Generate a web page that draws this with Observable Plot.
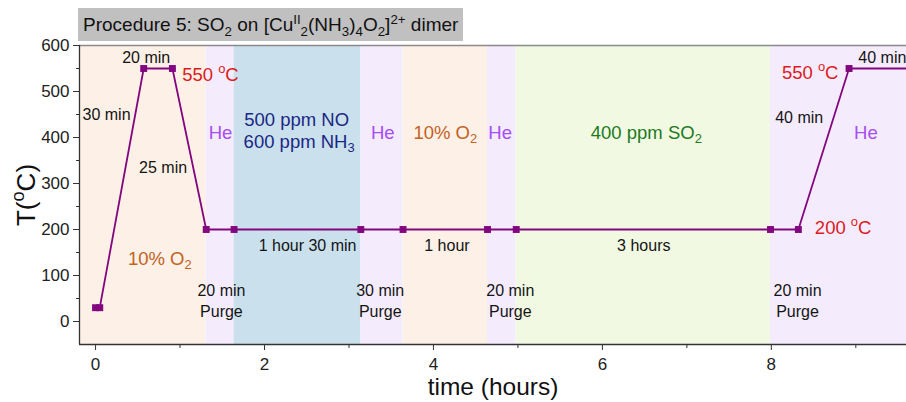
<!DOCTYPE html>
<html><head><meta charset="utf-8">
<script src="https://cdn.jsdelivr.net/npm/d3@7"></script>
<script src="https://cdn.jsdelivr.net/npm/@observablehq/plot@0.6"></script>
<style>
body{margin:0;background:#fff;overflow:hidden;font-family:"Liberation Sans",Arial,sans-serif;}
#wrap{position:relative;width:906px;height:402px;}
#chart{position:absolute;left:0;top:0;}
#title{position:absolute;left:78px;top:8px;height:33px;line-height:33px;padding:0 5px 0 5px;background:#c0c0c0;font-size:19px;color:#111;white-space:nowrap;z-index:2;}
#title sub,#title sup{font-size:70%;line-height:0;}
</style></head>
<body><div id="wrap"><div id="title">Procedure 5: SO<sub>2</sub> on [Cu<sup>II</sup><sub>2</sub>(NH<sub>3</sub>)<sub>4</sub>O<sub>2</sub>]<sup>2+</sup> dimer</div><div id="chart"></div></div>
<script>
// ---- data ----
const xDomain = [-0.19, 9.6];
const yDomain = [-50, 600];
const xMajorTicks = [0, 2, 4, 6, 8];
const xMinorTicks = [1, 3, 5, 7, 9];
const yMajorTicks = [0, 100, 200, 300, 400, 500, 600];
const yMinorTicks = [50, 150, 250, 350, 450, 550];

// temperature program
const stepTime = [0, 0.05, 0.57, 0.91, 1.31, 1.64, 3.14, 3.64, 4.64, 4.98, 7.99, 8.32, 8.92, 9.67];
const stepTemp = [30, 30, 550, 550, 200, 200, 200, 200, 200, 200, 200, 200, 550, 550];

// gas atmosphere bands
const bandStart = [-0.19, 1.31, 1.64, 3.14, 3.64, 4.64, 4.98, 7.99];
const bandEnd   = [1.31, 1.64, 3.14, 3.64, 4.64, 4.98, 7.99, 9.6];
const bandGas   = ["O2", "He", "NO", "He", "O2", "He", "SO2", "He"];

// annotations (text, time, temperature, kind)
const annotText = ["30 min", "20 min", "25 min", "1 hour 30 min", "1 hour", "3 hours", "40 min",
  "20 min\nPurge", "30 min\nPurge", "20 min\nPurge", "20 min\nPurge",
  "550 ^{o}C", "550 ^{o}C", "200 ^{o}C",
  "He", "He", "He", "He",
  "500 ppm NO", "600 ppm NH_{3}",
  "10% O_{2}", "10% O_{2}",
  "400 ppm SO_{2}",
  "40 min"];
const annotTime = [0.13, 0.60, 0.80, 2.51, 4.16, 6.49, 8.33,
  1.49, 3.37, 4.91, 8.31,
  1.36, 8.46, 8.85,
  1.48, 3.40, 4.79, 9.12,
  2.38, 2.41,
  0.76, 4.14,
  6.52,
  9.03];
const annotTemp = [453, 577, 337, 167, 167, 167, 445,
  47, 47, 47, 47,
  540, 543, 208,
  414, 414, 414, 414,
  442, 394,
  139, 414,
  413,
  577];
const annotKind = ["dur", "dur", "dur", "dur", "dur", "dur", "dur",
  "dur", "dur", "dur", "dur",
  "temp", "temp", "temp",
  "he", "he", "he", "he",
  "no", "no",
  "o2", "o2",
  "so2",
  "durStart"];

// ---- build ----
const steps = stepTime.map((t, i) => ({t, T: stepTemp[i]}));
const bands = bandStart.map((s, i) => ({s, e: bandEnd[i], gas: bandGas[i]}));
const annots = annotText.map((text, i) => ({text, t: annotTime[i], T: annotTemp[i], kind: annotKind[i]}));

const kindStyle = {
  dur: {fill: "#141414", fontSize: 16, textAnchor: "middle"},
  durStart: {fill: "#141414", fontSize: 16, textAnchor: "start"},
  temp: {fill: "#dc1a1e", fontSize: 18.5, textAnchor: "middle"},
  he: {fill: "#a64df5", fontSize: 18.5, textAnchor: "middle"},
  no: {fill: "#1b2784", fontSize: 18.5, textAnchor: "middle"},
  o2: {fill: "#c2621d", fontSize: 18.5, textAnchor: "middle"},
  so2: {fill: "#1d7a1d", fontSize: 18.5, textAnchor: "middle"}
};

const textMarks = Object.entries(kindStyle).map(([k, st]) =>
  Plot.text(annots.filter(d => d.kind === k), {
    x: "t", y: "T", text: "text", fill: st.fill, fontSize: st.fontSize,
    textAnchor: st.textAnchor, lineAnchor: "middle", lineHeight: 1.3
  }));

const chart = Plot.plot({
  width: 906, height: 402,
  marginTop: 45, marginBottom: 58, marginLeft: 79, marginRight: 0,
  style: {fontFamily: "'Liberation Sans', Arial, sans-serif", color: "#222", background: "white"},
  x: {domain: xDomain, axis: null},
  y: {domain: yDomain, axis: null},
  color: {domain: ["O2", "He", "NO", "SO2"], range: ["#fdf0e6", "#f4ecfd", "#cae0ed", "#f1f9e3"]},
  marks: [
    Plot.rect(bands, {x1: "s", x2: "e", y1: yDomain[0], y2: yDomain[1], fill: "gas"}),
    Plot.ruleY([yDomain[1]], {stroke: "#8a8a8a", strokeWidth: 1.6}),
    Plot.ruleX([xDomain[0]], {stroke: "#333", strokeWidth: 1.3}),
    Plot.ruleY([yDomain[0]], {stroke: "#333", strokeWidth: 1.3}),
    Plot.axisX({ticks: xMajorTicks, tickSize: 6, tickPadding: 7, fontSize: 17, label: null, stroke: "#333"}),
    Plot.axisX({ticks: xMinorTicks, tickSize: 4, text: null, label: null, stroke: "#333"}),
    Plot.axisY({ticks: yMajorTicks, tickSize: 6, tickPadding: 4, fontSize: 17, label: null, stroke: "#333"}),
    Plot.axisY({ticks: yMinorTicks, tickSize: 3, text: null, label: null, stroke: "#333"}),
    Plot.line(steps, {x: "t", y: "T", stroke: "#82067f", strokeWidth: 1.8, clip: true}),
    Plot.dot(steps, {x: "t", y: "T", symbol: "square", r: 3.9, fill: "#82067f", stroke: "none", clip: true}),
    ...textMarks,
    Plot.text(["time (hours)"], {frameAnchor: "bottom", dy: 43, fontSize: 24.5, fill: "#111", lineAnchor: "middle"}),
    Plot.text(["T(^{o}C)"], {frameAnchor: "left", dx: -53, rotate: -90, fontSize: 26, fill: "#111", lineAnchor: "middle", textAnchor: "middle"})
  ]
});

// sub/superscript markup -> tspans
function richify(svg) {
  svg.querySelectorAll("text, tspan").forEach(el => {
    if (el.children.length) return;
    const s = el.textContent;
    if (!/[_^]\{/.test(s)) return;
    el.textContent = "";
    for (const p of s.split(/([_^]\{[^}]*\})/)) {
      if (!p) continue;
      const m = p.match(/^([_^])\{([^}]*)\}$/);
      if (m) {
        const t = document.createElementNS("http://www.w3.org/2000/svg", "tspan");
        t.textContent = m[2];
        t.setAttribute("baseline-shift", m[1] === "_" ? "-0.3em" : "0.6em");
        t.setAttribute("font-size", "70%");
        el.appendChild(t);
      } else {
        el.appendChild(document.createTextNode(p));
      }
    }
  });
}
richify(chart);
document.getElementById("chart").appendChild(chart);
</script>
</body></html>
